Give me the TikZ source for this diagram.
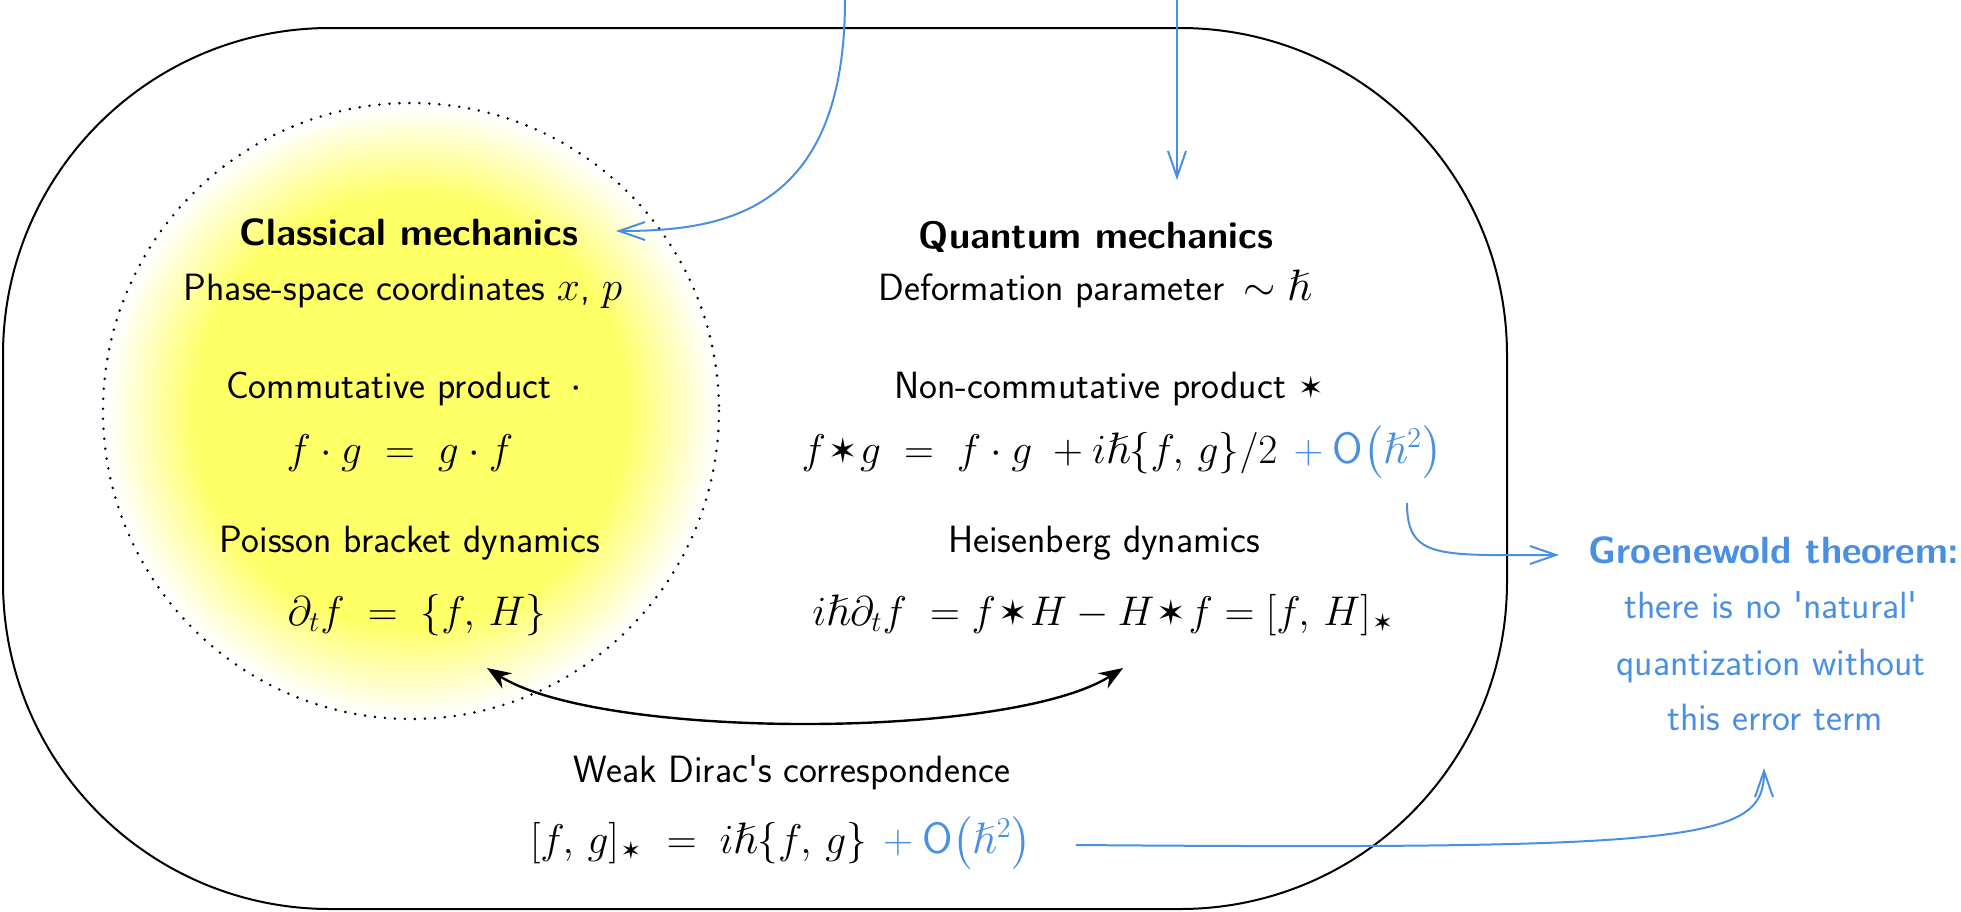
\documentclass[tikz,border=0pt]{standalone}
\usepackage{amsmath,amssymb}
\usepackage{fontspec}
\newfontfamily\starfont{DejaVu Sans}[Scale=0.8]
\usetikzlibrary{arrows.meta}
\definecolor{qblue}{HTML}{4A90E2}
\definecolor{glowy}{HTML}{FFFF66}
\pgfdeclareradialshading{glow}{\pgfpoint{0bp}{0bp}}{color(0bp)=(glowy); color(17.5bp)=(glowy); color(24.8bp)=(white); color(50bp)=(white)}
\newcommand{\sst}{\mkern1mu\text{\starfont ✶}\mkern1mu}
\newcommand{\hb}{\hslash}
\newcommand{\errterm}{\mathbin{\textcolor{qblue}{+}}\textcolor{qblue}{\mathsf{O}\bigl(\hb^2\bigr)}}
\newcommand{\mth}[1]{{\fontsize{22}{26}\selectfont$#1$}}
\begin{document}
\begin{tikzpicture}[x=0.5pt,y=-0.5pt,
  txt/.style={anchor=base, inner sep=0pt, font=\sffamily\fontsize{19}{23}\selectfont},
  eq/.style={txt, font=\sffamily\fontsize{22}{26}\selectfont},
  hd/.style={txt, font=\sffamily\bfseries\fontsize{19}{23}\selectfont},
  note/.style={txt, text=qblue},
  notehd/.style={hd, text=qblue},
  blueline/.style={qblue, line width=1pt, -{Straight Barb[length=13pt,width=9pt]}},
  dbl/.style={line width=1.2pt, {Stealth[length=12pt,width=9pt,inset=4pt]}-{Stealth[length=12pt,width=9pt,inset=4pt]}},
  dottedring/.style={line width=1.4pt, line cap=round, dash pattern=on 0pt off 5pt}]
\useasboundingbox (0,0) rectangle (1961,911);
% outer region
\draw[line width=1pt, rounded corners=163.5pt] (3,28) rectangle (1507,909);
% classical glow
\shade[shading=glow] (411,411) circle[radius=308];
\draw[dottedring] (411,411) circle[radius=308];
% classical column
\node[hd]  (cm) at (409,245) {Classical mechanics};
\node[txt] (ps) at (403,300) {Phase-space coordinates \mth{x}, \mth{p}};
\node[txt] (cp) at (404,398) {Commutative product\enspace\mth{\cdot}};
\node[eq]  (cq) at (400,463) {$f\cdot g \;=\; g\cdot f$};
\node[txt] (pb) at (410,552) {Poisson bracket dynamics};
\node[eq]  (pe) at (417,625) {$\partial_t f \;=\; \{f,\, H\}$};
% quantum column
\node[hd]  (qm) at (1096,248) {Quantum mechanics};
\node[txt] (dp) at (1095,300) {Deformation parameter\enspace\mth{\sim\hb}};
\node[txt] (nc) at (1109,398) {Non-commutative product {\starfont ✶}};
\node[eq]  (ne) at (1122,463) {$f\sst g \;=\; f\cdot g\; + i\hb\{f,\, g\}/2\, \errterm$};
\node[txt] (hbn) at (1104,552) {Heisenberg dynamics};
\node[eq]  (he) at (1104,625) {$i\hb\partial_t f \;= f\sst H - H\sst f = [f,\, H]_{\sst}$};
% weak correspondence
\node[txt] (wd) at (792,782) {Weak Dirac\textquotesingle s correspondence};
\node[eq]  (we) at (781,853) {$[f,\, g]_{\sst} \;=\; i\hb\{f,\, g\}\, \errterm$};
% Groenewold note
\node[notehd] (gt) at (1774,563) {Groenewold theorem:};
\node[note] (g2) at (1771,618) {there is no \textquotesingle natural\textquotesingle};
\node[note] (g3) at (1771,675) {quantization without};
\node[note] (g4) at (1775,730) {this error term};
% connector ends
\coordinate (inA) at (845,0);
\coordinate (inB) at (1177,0);
\coordinate (cmIn) at (616,231);
\coordinate (qmIn) at (1177,180);
\coordinate (neOut) at (1407,503);
\coordinate (gtIn) at (1559,555);
\coordinate (weOut) at (1076,845);
\coordinate (g4In) at (1764,768);
\coordinate (peEnd) at (487,668);
\coordinate (heEnd) at (1123,668);
% connectors
\draw[blueline] (inA) .. controls (845,215) and (720,231) .. (cmIn);
\draw[blueline] (inB) -- (qmIn);
\draw[blueline] (neOut) .. controls (1407,560) and (1440,555) .. (gtIn);
\draw[blueline] (weOut) .. controls (1700,850) and (1764,840) .. (g4In);
\draw[dbl] (peEnd) .. controls (600,740) and (1010,740) .. (heEnd);
\end{tikzpicture}
\end{document}
